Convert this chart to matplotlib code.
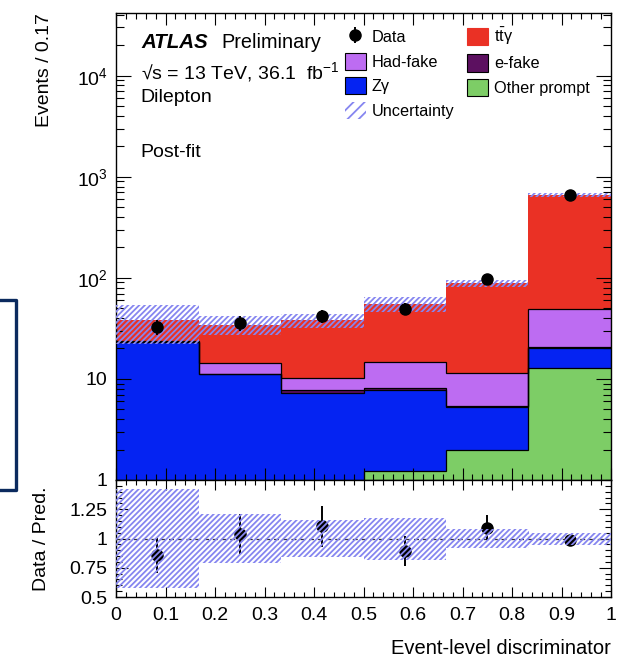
import numpy as np
import matplotlib
matplotlib.use('Agg')
import matplotlib.pyplot as plt
from matplotlib.patches import Patch
from matplotlib.lines import Line2D
from matplotlib.ticker import FixedLocator, FixedFormatter, MultipleLocator, NullFormatter

plt.rcParams['font.family'] = ['Liberation Sans', 'DejaVu Sans']
plt.rcParams['mathtext.fontset'] = 'custom'
plt.rcParams['mathtext.rm'] = 'Liberation Sans'
plt.rcParams['mathtext.it'] = 'Liberation Sans:italic'
plt.rcParams['mathtext.bf'] = 'Liberation Sans:bold'
plt.rcParams['hatch.linewidth'] = 1.3

# binning of the discriminator
edges = np.linspace(0, 1, 7)

# post-fit yields per process, stacked bottom to top
other_prompt = [0.0, 0.0, 0.0, 1.23, 2.0, 12.7]
z_gamma = [23.2, 11.1, 7.2, 6.47, 3.3, 7.3]
e_fake = [0.1, 0.05, 0.5, 0.5, 0.05, 0.7]
had_fake = [0.3, 3.35, 2.6, 6.5, 6.15, 28.8]
ttgamma = [14.4, 19.9, 27.7, 40.8, 77.2, 611.5]

data = [32.6, 35.7, 41.9, 49.5, 97.0, 655.0]
data_err = [5.7, 6.0, 6.5, 7.0, 9.8, 25.6]

# relative total uncertainty band (lower / upper edge)
unc_lo = [0.58, 0.79, 0.84, 0.82, 0.92, 0.945]
unc_hi = [1.42, 1.21, 1.16, 1.175, 1.08, 1.05]

y_ticks = [1, 10, 100, 1000, 10000]
y_ticklabels = ['1', '10', '10$^{2}$', '10$^{3}$', '10$^{4}$']
r_ticks = [0.5, 0.75, 1.0, 1.25]
r_ticklabels = ['0.5', '0.75', '1', '1.25']
x_ticks = [0, 0.1, 0.2, 0.3, 0.4, 0.5, 0.6, 0.7, 0.8, 0.9, 1.0]
x_ticklabels = ['0', '0.1', '0.2', '0.3', '0.4', '0.5', '0.6', '0.7', '0.8', '0.9', '1']

colors = {
    'other': '#7dcd66',
    'zg': '#0523f2',
    'efake': '#5c1060',
    'hadfake': '#bd6cf2',
    'ttg': '#ea3125',
}
hatch_color = '#8686f0'
HATCH = '//////'


def style_axis(ax, xmaj, xmin, ymaj, ymin):
    ax.tick_params(which='both', direction='in', top=True, right=True, labelsize=14)
    ax.tick_params(axis='x', which='major', length=xmaj, width=0.8, pad=7)
    ax.tick_params(axis='x', which='minor', length=xmin, width=0.8)
    ax.tick_params(axis='y', which='major', length=ymaj, width=0.8, pad=6)
    ax.tick_params(axis='y', which='minor', length=ymin, width=0.8)
    for s in ax.spines.values():
        s.set_linewidth(1.0)


def draw_main(ax):
    comps = [other_prompt, z_gamma, e_fake, had_fake, ttgamma]
    keys = ['other', 'zg', 'efake', 'hadfake', 'ttg']
    floor = 1e-3
    base = np.full(6, floor)
    tops = []
    for vals, k in zip(comps, keys):
        top = base + np.array(vals)
        ax.stairs(top, edges, baseline=base, fill=True, color=colors[k], lw=0, zorder=1)
        tops.append(top)
        base = top
    # black step outlines on top of every component but the last
    for top in tops[:-1]:
        ax.stairs(np.maximum(top, floor), edges, baseline=None, color='black', lw=0.9, zorder=2)

    total = tops[-1]
    lo = total * np.array(unc_lo)
    hi = total * np.array(unc_hi)
    ax.bar(edges[:-1], hi - lo, width=np.diff(edges), bottom=lo, align='edge',
           fill=False, hatch=HATCH, edgecolor=hatch_color, linewidth=0, zorder=3)

    centers = 0.5 * (edges[:-1] + edges[1:])
    ax.errorbar(centers, data, yerr=data_err, fmt='o', color='black', ms=8,
                elinewidth=1.4, capsize=0, zorder=5)

    ax.set_yscale('log')
    ax.set_xlim(0, 1)
    ax.set_ylim(1, 4.2e4)
    ax.yaxis.set_major_locator(FixedLocator(y_ticks))
    ax.yaxis.set_major_formatter(FixedFormatter(y_ticklabels))
    ax.yaxis.set_minor_locator(matplotlib.ticker.LogLocator(base=10, subs=np.arange(2, 10)))
    ax.yaxis.set_minor_formatter(NullFormatter())
    ax.xaxis.set_major_locator(MultipleLocator(0.1))
    ax.xaxis.set_minor_locator(MultipleLocator(0.02))
    ax.tick_params(axis='x', labelbottom=False)
    style_axis(ax, 8.5, 4.3, 11, 5.5)
    ax.set_ylabel('Events / 0.17', loc='top', fontsize=14)
    ax.yaxis.set_label_coords(-0.128, 1.0)

    ax.text(0.052, 0.936, 'ATLAS', transform=ax.transAxes, fontsize=14.8,
            fontweight='bold', fontstyle='italic', va='center')
    ax.text(0.212, 0.936, 'Preliminary', transform=ax.transAxes, fontsize=14.3, va='center')
    ax.text(0.05, 0.874, '\u221as = 13 TeV, 36.1  fb$^{-1}$', transform=ax.transAxes,
            fontsize=14, va='center')
    ax.text(0.05, 0.819, 'Dilepton', transform=ax.transAxes, fontsize=14, va='center')
    ax.text(0.05, 0.70, 'Post-fit', transform=ax.transAxes, fontsize=14, va='center')

    h_data = ax.errorbar([], [], yerr=[], fmt='o', color='black', ms=8, elinewidth=1.4)
    handles = [
        h_data,
        Patch(facecolor=colors['hadfake'], edgecolor='black', lw=0.8),
        Patch(facecolor=colors['zg'], edgecolor='black', lw=0.8),
        Patch(fill=False, hatch='///', edgecolor=hatch_color, lw=0),
        Patch(facecolor=colors['ttg'], edgecolor=colors['ttg'], lw=0.8),
        Patch(facecolor=colors['efake'], edgecolor='black', lw=0.8),
        Patch(facecolor=colors['other'], edgecolor='black', lw=0.8),
    ]
    labels = ['Data', 'Had-fake', 'Z\u03b3', 'Uncertainty',
              '$\\mathrm{t\\bar{t}}$\u03b3', 'e-fake', 'Other prompt']
    ax.legend(handles, labels, ncol=2, loc='upper left', bbox_to_anchor=(0.462, 0.972),
              frameon=False, fontsize=11.7, handlelength=1.3, handleheight=1.25,
              handletextpad=0.35, labelspacing=0.46, columnspacing=0.8,
              borderpad=0, borderaxespad=0)


def draw_ratio(ax):
    lo = np.array(unc_lo)
    hi = np.array(unc_hi)
    ax.bar(edges[:-1], hi - lo, width=np.diff(edges), bottom=lo, align='edge',
           fill=False, hatch=HATCH, edgecolor=hatch_color, linewidth=0, zorder=4)
    ax.axhline(1.0, color='#333333', ls='--', lw=0.9, dashes=(4, 3), zorder=2)

    total = np.sum([other_prompt, z_gamma, e_fake, had_fake, ttgamma], axis=0)
    ratio = np.array(data) / total
    ratio_err = np.array(data_err) / total
    centers = 0.5 * (edges[:-1] + edges[1:])
    ax.errorbar(centers, ratio, yerr=ratio_err, fmt='o', color='black', ms=8,
                elinewidth=1.4, capsize=0, zorder=3)

    ax.set_xlim(0, 1)
    ax.set_ylim(0.5, 1.5)
    ax.yaxis.set_major_locator(FixedLocator(r_ticks))
    ax.yaxis.set_major_formatter(FixedFormatter(r_ticklabels))
    ax.yaxis.set_minor_locator(MultipleLocator(0.05))
    ax.xaxis.set_major_locator(FixedLocator(x_ticks))
    ax.xaxis.set_major_formatter(FixedFormatter(x_ticklabels))
    ax.xaxis.set_minor_locator(MultipleLocator(0.02))
    style_axis(ax, 7, 3.5, 8.5, 4.3)
    ax.set_ylabel('Data / Pred.', fontsize=14)
    ax.yaxis.set_label_coords(-0.133, 0.5)
    ax.set_xlabel('Event-level discriminator', loc='right', fontsize=14.5, labelpad=11)


def main():
    W, H = 636, 669
    fig = plt.figure(figsize=(W / 100, H / 100), dpi=100)
    left, right = 116 / W, 611 / W
    ax_main = fig.add_axes([left, 1 - 480 / H, right - left, (480 - 12.7) / H])
    ax_ratio = fig.add_axes([left, 1 - 597 / H, right - left, (597 - 480) / H])

    draw_main(ax_main)
    draw_ratio(ax_ratio)

    # navy frame edge at the left border
    xs = np.array([0, 16, 16, 0]) / W
    ys = 1 - np.array([300, 300, 490, 490]) / H
    fig.add_artist(Line2D(xs, ys, color='#0b2a5e', lw=2.4, transform=fig.transFigure))

    fig.savefig('out.png', dpi=100)


if __name__ == '__main__':
    main()
